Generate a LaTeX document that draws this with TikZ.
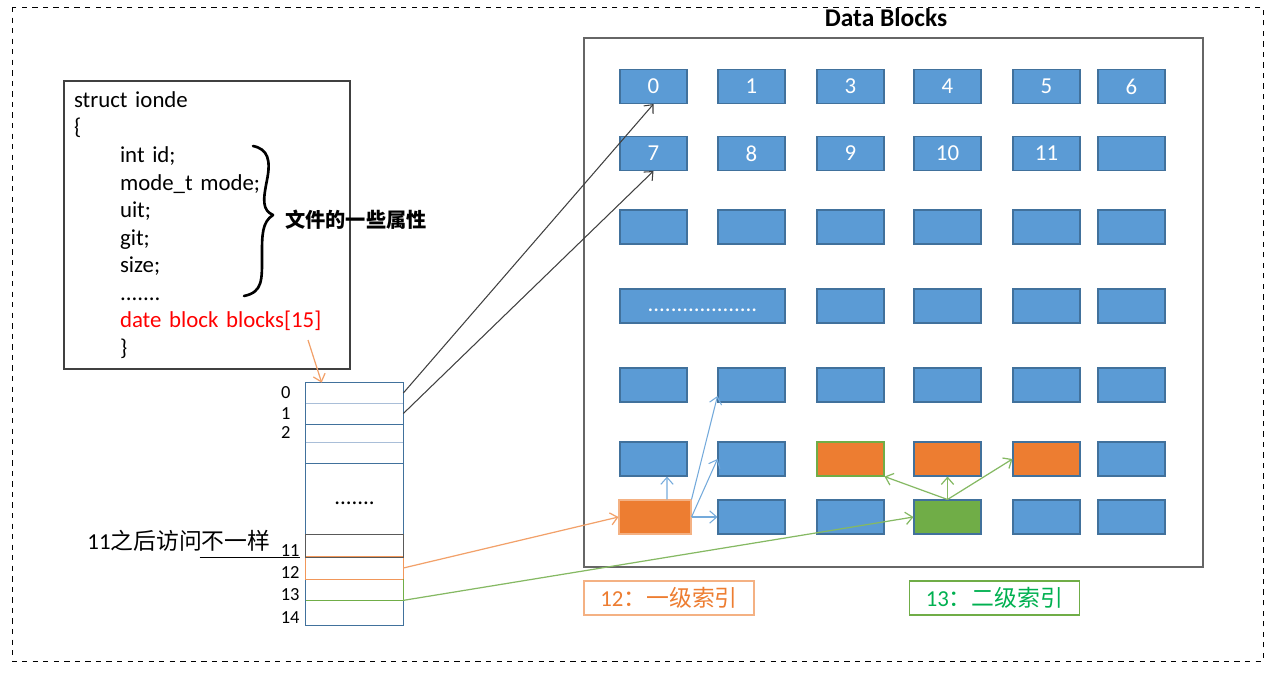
\documentclass[tikz,border=0pt]{standalone}
\usepackage{fontspec}
\setmainfont{Carlito}
\newfontfamily\cjk{Noto Sans CJK SC}
\usepackage{tikz}
\usetikzlibrary{calc,shapes,arrows,arrows.meta,positioning}
\definecolor{blkblue}{HTML}{5B9BD5}
\definecolor{blkedge}{HTML}{41719C}
\definecolor{blkorange}{HTML}{ED7D31}
\definecolor{blkgreen}{HTML}{70AD47}
\definecolor{lightedge}{HTML}{A9BED8}
\definecolor{capgreen}{HTML}{00B050}
\definecolor{oedge}{HTML}{F4B183}
\tikzstyle{block} = [rectangle, draw=blkedge, fill=blkblue, line width=0.6pt, minimum width=1.34cm, minimum height=0.68cm, inner sep=0pt, text=white, font=\fontsize{13}{15.7}\selectfont]
\tikzstyle{oblock} = [block, fill=blkorange, draw=oedge]
\tikzstyle{gblock} = [block, fill=blkgreen, draw=blkedge]
\tikzstyle{cell} = [rectangle, draw=none, minimum width=1.94cm, inner sep=0pt, font=\fontsize{13}{15.7}\selectfont]
\tikzstyle{alabel} = [font=\fontsize{10.5}{12}\selectfont]
\tikzstyle{caption} = [rectangle, line width=0.6pt, minimum width=3.4cm, minimum height=0.68cm, font=\fontsize{13}{15.7}\selectfont]
\tikzstyle{arrow} = [-{Straight Barb[length=4pt,width=7pt]}, line width=0.6pt, black!75]
\tikzstyle{barrow} = [arrow, blkblue!85]
\tikzstyle{oarrow} = [arrow, line width=0.7pt, oedge!70!blkorange]
\tikzstyle{garrow} = [arrow, line width=0.7pt, blkgreen!85]

\begin{document}
\begin{tikzpicture}[x=0.02cm, y=-0.02cm, label distance=0.18cm]
\useasboundingbox (0,0) rectangle (1278,674);
\draw[dashed, thin] (12,7) rectangle (1263,661);

\node (inode) [draw=black!75, line width=0.8pt, minimum width=5.72cm, minimum height=5.76cm, text width=5.32cm, align=left, inner sep=0.2cm, font=\fontsize{13}{15.7}\selectfont] at (207,225) {struct ionde\\
\{\\
\hspace*{0.92cm}int id;\\
\hspace*{0.92cm}mode\_t mode;\\
\hspace*{0.92cm}uit;\\
\hspace*{0.92cm}git;\\
\hspace*{0.92cm}size;\\
\hspace*{0.92cm}.......\\
\hspace*{0.92cm}{\color{red}date block blocks[15]}\\
\hspace*{0.92cm}\}};
\draw[line width=1.5pt, line cap=round, line join=round] (253,146) .. controls (268,149) and (271,160) .. (267,180) .. controls (263,200) and (262,210) .. (273,215) .. controls (262,222) and (262,235) .. (262,255) .. controls (262,280) and (263,292) .. (244,296);
\node (attr) [anchor=west, font=\fontsize{11.5}{14}\selectfont\cjk\bfseries] at (279,220) {文件的一些属性};
\coordinate (bref) at (308,340);

\node (a0) [cell, minimum height=0.4cm, label={[alabel]west:0}] at (354.5,393) {};
\node (a1) [cell, minimum height=0.42cm, label={[alabel]west:1}] at (354.5,413.5) {};
\node (a2) [cell, minimum height=0.36cm, label={[alabel]west:2}] at (354.5,433) {};
\node (a3) [cell, minimum height=0.42cm] at (354.5,452.5) {};
\node (adots) [cell, minimum height=1.44cm] at (354.5,499) {.......\strut};
\node (a11) [cell, minimum height=0.44cm, label={[alabel, xshift=0.18cm, yshift=-0.1cm]west:11}] at (354.5,546) {};
\node (a12) [cell, minimum height=0.44cm, label={[alabel, xshift=0.18cm, yshift=-0.1cm]west:12}] at (354.5,568) {};
\node (a13) [cell, minimum height=0.42cm, label={[alabel, xshift=0.18cm, yshift=-0.1cm]west:13}] at (354.5,589.5) {};
\node (a14) [cell, minimum height=0.5cm, label={[alabel, xshift=0.18cm, yshift=-0.1cm]west:14}] at (354.5,612.5) {};
\draw[blkedge, line width=0.6pt] (a0.north west) rectangle (a14.south east);
\draw[lightedge, line width=0.8pt] (a0.south west) -- (a0.south east);
\draw[blkedge, line width=0.6pt] (a1.south west) -- (a1.south east);
\draw[lightedge, line width=0.8pt] (a2.south west) -- (a2.south east);
\draw[blkedge, line width=0.6pt] (a3.south west) -- (a3.south east);
\draw[blkorange!80, line width=0.6pt] (a12.north west) rectangle (a12.south east);
\draw[black!65, line width=0.6pt] (a11.north west) rectangle (a11.south east);
\draw[blkgreen, line width=0.6pt] (a13.south west) -- (a13.south east) -- (a13.north east);
\node (note) [font=\fontsize{13}{15.7}\selectfont] at (179,541) {11{\cjk 之后访问不一样}};
\draw[thin] ([xshift=-2.12cm]a11.south west) -- ([xshift=-0.12cm]a11.south west);

\node (title) [font=\fontsize{14.5}{17}\selectfont\bfseries] at (886,18) {Data Blocks};
\node (dframe) [draw=black!60, line width=1pt, minimum width=12.38cm, minimum height=10.58cm] at (893.5,302.5) {};

\foreach \x/\c/\t in {653.5/1/0, 751.5/2/1, 850.5/3/3, 947.5/4/4, 1046.5/5/5, 1131.5/6/6}
  \node (b1\c) [block] at (\x,86.5) {\t};
\foreach \x/\c/\t in {653.5/1/7, 751.5/2/8, 850.5/3/9, 947.5/4/10, 1046.5/5/11, 1131.5/6/{}}
  \node (b2\c) [block] at (\x,153.5) {\t};
\foreach \x/\c in {653.5/1, 751.5/2, 850.5/3, 947.5/4, 1046.5/5, 1131.5/6}{
  \node (b3\c) [block] at (\x,227) {};
  \node (b5\c) [block] at (\x,385) {};
}
\node (b41) [block, minimum width=3.3cm] at (702.5,306) {...................\strut};
\foreach \x/\c in {850.5/3, 947.5/4, 1046.5/5, 1131.5/6}
  \node (b4\c) [block] at (\x,306) {};
\node (b61) [block] at (653.5,459) {};
\node (b62) [block] at (751.5,459) {};
\node (b63) [oblock, draw=blkgreen] at (850.5,459) {};
\node (b64) [oblock, draw=blkedge] at (947.5,459) {};
\node (b65) [oblock, draw=blkedge] at (1046.5,459) {};
\node (b66) [block] at (1131.5,459) {};
\node (b71) [oblock, minimum width=1.44cm] at (655,517) {};
\node (b72) [block] at (751.5,517) {};
\node (b73) [block] at (850.5,517) {};
\node (b74) [gblock] at (947.5,517) {};
\node (b75) [block] at (1046.5,517) {};
\node (b76) [block] at (1131.5,517) {};

\node (cap12) [caption, draw=oedge, text=blkorange] at (669,598) {12{\cjk ：一级索引}};
\node (cap13) [caption, draw=blkgreen, text=capgreen] at (994.5,598) {13{\cjk ：二级索引}};

\draw[oarrow] (bref) -- ([xshift=0.32cm]a0.north west);
\draw[arrow] (a0.east) -- (b11.south);
\draw[arrow] (a1.east) -- (b21.south);
\draw[oarrow] (a12.east) -- (b71.west);
\draw[garrow] (a13.south east) -- (b74.west);
\draw[barrow] ([xshift=0.24cm]b71.north) -- ([xshift=0.27cm]b61.south);
\draw[barrow] (b71.north east) -- ([yshift=-0.22cm]b52.west);
\draw[barrow] (b71.east) -- (b62.west);
\draw[barrow] (b71.east) -- (b72.west);
\draw[garrow] (b74.north) -- (b63.south east);
\draw[garrow] (b74.north) -- (b64.south);
\draw[garrow] (b74.north) -- (b65.west);
\end{tikzpicture}
\end{document}
